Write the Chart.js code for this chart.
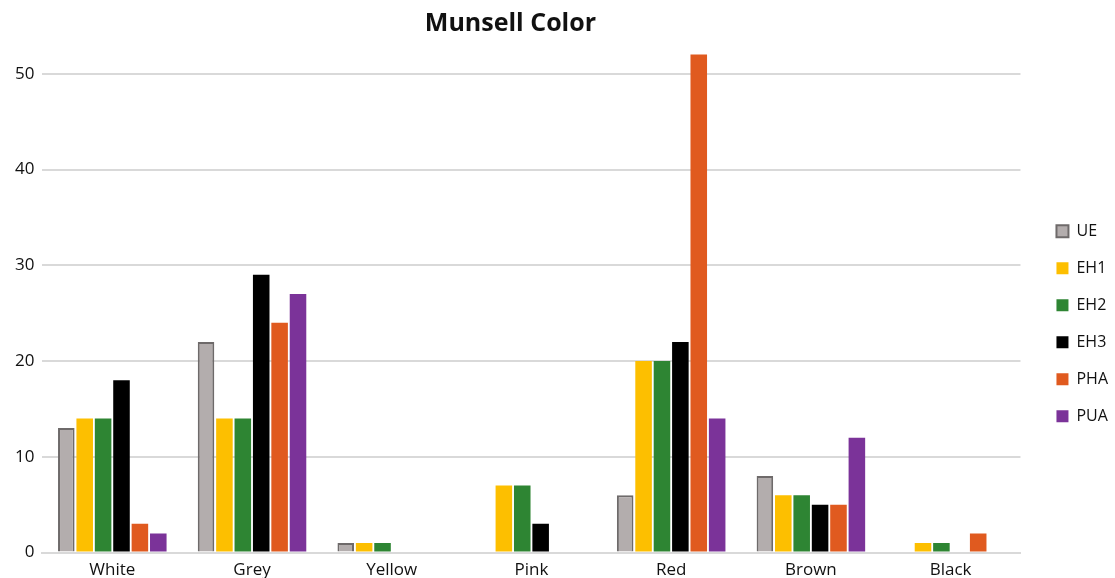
<!DOCTYPE html>
<html>
<head>
<meta charset="utf-8">
<script src="https://cdn.jsdelivr.net/npm/chart.js@4/dist/chart.umd.min.js"></script>
<style>
  html, body { margin: 0; padding: 0; background: #fff; }
  #wrap { width: 1115px; height: 578px; }
</style>
</head>
<body>
<div id="wrap"><canvas id="myChart"></canvas></div>
<script>
  const categories = ['White', 'Grey', 'Yellow', 'Pink', 'Red', 'Brown', 'Black'];
  const ue  = [13, 22, 1, 0, 6, 8, 0];
  const eh1 = [14, 14, 1, 7, 20, 6, 1];
  const eh2 = [14, 14, 1, 7, 20, 6, 1];
  const eh3 = [18, 29, 0, 3, 22, 5, 0];
  const pha = [3, 24, 0, 0, 52, 5, 2];
  const pua = [2, 27, 0, 0, 14, 12, 0];
  const yTicks = [0, 10, 20, 30, 40, 50];

  const font = "'Open Sans', 'Noto Sans', sans-serif";

  const bar = (label, values, color, extra) => Object.assign({
    label,
    data: values,
    backgroundColor: color,
    borderWidth: 0,
    categoryPercentage: 0.79,
    barPercentage: 0.9
  }, extra || {});

  const data = {
    labels: categories,
    datasets: [
      bar('UE', ue, '#b3adad', { borderColor: '#6e6a6a', borderWidth: 2 }),
      bar('EH1', eh1, '#fdbf00'),
      bar('EH2', eh2, '#2e8533'),
      bar('EH3', eh3, '#000000'),
      bar('PHA', pha, '#e05a1f'),
      bar('PUA', pua, '#7b3399')
    ]
  };

  // nudge legend right and title left, like the original layout
  const nudge = {
    id: 'nudge',
    afterLayout(chart) {
      const lg = chart.legend;
      if (lg) {
        lg.left += 15;
        lg.right += 15;
        (lg.legendHitBoxes || []).forEach(b => { b.left += 15; });
      }
      const t = chart.titleBlock;
      if (t) {
        t.left -= 21;
        t.right -= 21;
      }
    }
  };

  // config
  const config = {
    type: 'bar',
    data,
    plugins: [nudge],
    options: {
      responsive: true,
      maintainAspectRatio: false,
      animation: false,
      layout: { padding: { left: 7, right: 12, top: 0, bottom: -9 } },
      plugins: {
        title: {
          display: true,
          text: 'Munsell Color',
          color: '#111',
          fullSize: false,
          font: { family: font, size: 25, weight: 'bold' },
          padding: { top: 9, bottom: 6 }
        },
        legend: {
          position: 'right',
          title: { display: true, text: ' ', font: { size: 12 }, padding: { top: 46, bottom: 0 } },
          labels: {
            color: '#111',
            font: { family: font, size: 16 },
            boxWidth: 12,
            boxHeight: 12,
            padding: 21
          }
        },
        tooltip: { enabled: false }
      },
      scales: {
        x: {
          grid: { display: false, drawTicks: false },
          border: { color: '#d9d9d9', width: 2 },
          ticks: { color: '#111', font: { family: font, size: 17 }, padding: 7 }
        },
        y: {
          min: 0,
          max: 53,
          afterBuildTicks: axis => { axis.ticks = yTicks.map(v => ({ value: v })); },
          grid: { color: '#d9d9d9', lineWidth: 2, drawTicks: false },
          border: { display: false },
          ticks: { color: '#111', font: { family: font, size: 17 }, padding: 8 }
        }
      }
    }
  };

  // render init block
  const myChart = new Chart(document.getElementById('myChart'), config);
</script>
</body>
</html>
